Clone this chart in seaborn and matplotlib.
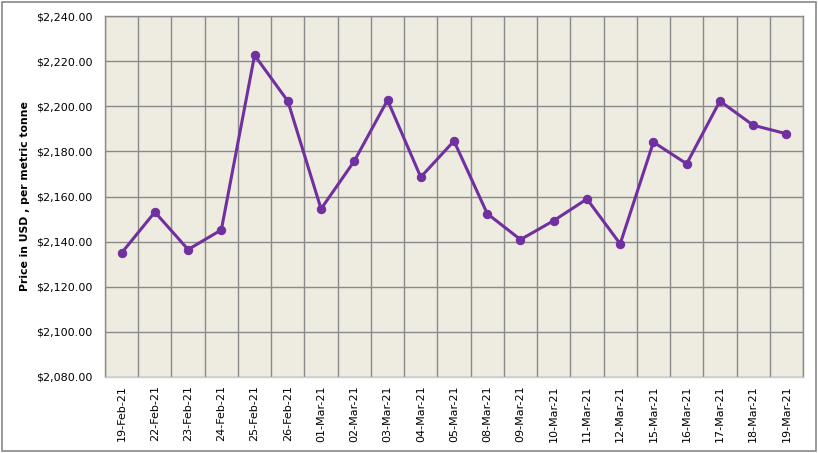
import matplotlib
matplotlib.use("Agg")
import matplotlib.pyplot as plt
import seaborn as sns
import pandas as pd
import numpy as np
from matplotlib.patches import Rectangle
from matplotlib.ticker import FuncFormatter, FixedLocator

sns.set_style("white")
plt.rcParams["font.family"] = ["DejaVu Sans"]

dates = ["19-Feb-21", "22-Feb-21", "23-Feb-21", "24-Feb-21", "25-Feb-21",
         "26-Feb-21", "01-Mar-21", "02-Mar-21", "03-Mar-21", "04-Mar-21",
         "05-Mar-21", "08-Mar-21", "09-Mar-21", "10-Mar-21", "11-Mar-21",
         "12-Mar-21", "15-Mar-21", "16-Mar-21", "17-Mar-21", "18-Mar-21",
         "19-Mar-21"]
prices = [2135.0, 2153.1, 2136.5, 2145.2, 2222.6, 2202.3, 2154.5, 2175.7,
          2202.7, 2168.6, 2184.6, 2152.4, 2140.9, 2149.3, 2158.9, 2139.0,
          2184.1, 2174.5, 2202.3, 2191.6, 2187.8]

df = pd.DataFrame({"date": dates, "price": prices})
df["pos"] = np.arange(len(dates))

purple = "#7030A0"
grid_grey = "#8A8A8A"

fig = plt.figure(figsize=(8.18, 4.53), dpi=100)
ax = fig.add_axes([105 / 818, 1 - 377 / 453, (803 - 105) / 818, (377 - 16) / 453])
ax.set_facecolor("#EEEBE0")

sns.lineplot(data=df, x="pos", y="price", ax=ax, color=purple, linewidth=2.2,
             marker="o", markersize=6, markeredgecolor=purple, zorder=3)

ax.set_xlim(-0.5, len(dates) - 0.5)
ax.set_ylim(2080, 2240)
ax.set_yticks(np.arange(2080, 2241, 20))
ax.yaxis.set_major_formatter(FuncFormatter(lambda v, p: f"${v:,.2f}"))
ax.set_xticks(df["pos"])
ax.set_xticklabels(dates, rotation=90, fontsize=8)
ax.xaxis.set_minor_locator(FixedLocator(np.arange(-0.5, len(dates), 1)))
ax.tick_params(axis="y", labelsize=8, length=0, pad=9, labelcolor="black")
ax.tick_params(axis="x", which="both", length=0, pad=6, labelcolor="black")

ax.grid(True, axis="y", which="major", color=grid_grey, linewidth=1)
ax.grid(True, axis="x", which="minor", color=grid_grey, linewidth=1)
ax.grid(False, axis="x", which="major")
ax.set_axisbelow(True)

for side in ["top", "right", "left"]:
    ax.spines[side].set_color(grid_grey)
    ax.spines[side].set_linewidth(1)
ax.spines["bottom"].set_color("#C8CCD8")
ax.spines["bottom"].set_linewidth(1)

ax.set_xlabel("")
ax.set_ylabel("Price in USD , per metric tonne", fontsize=7.8, fontweight="bold",
              labelpad=4, color="black")

fig.patches.append(Rectangle((0.002, 0.004), 0.996, 0.992, transform=fig.transFigure,
                             fill=False, edgecolor="#888888", linewidth=1.2))

fig.savefig("out.png", dpi=100)
